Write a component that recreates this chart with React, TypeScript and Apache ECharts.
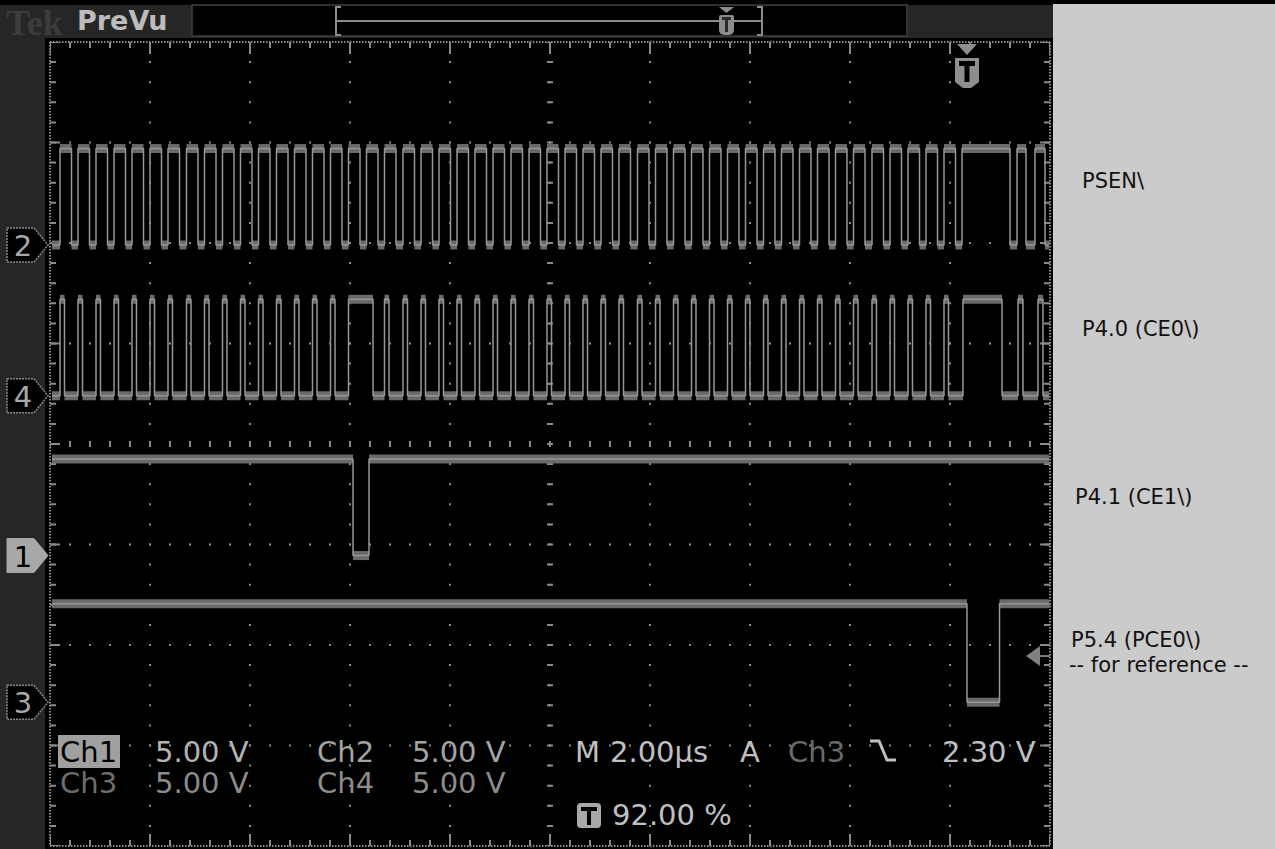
import React, { useEffect, useRef } from 'react';
import * as echarts from 'echarts';

// ---- time base (µs, relative to trigger; trigger position 92 % of 20 µs record) ----
const T_MIN = -18.4;
const T_MAX = 1.6;
const T_PER_DIV = 2;
const Y_DIVS = 8;
const traceStart = -18.36;
const traceEnd = 1.58;

// ---- channels (display order top to bottom) ----
const channelNames = ['Ch2', 'Ch4', 'Ch1', 'Ch3'];
const markerDigits = ['2', '4', '1', '3'];
const markerFilled = [false, false, true, false];
const signalLabels = ['PSEN\\', 'P4.0 (CE0\\)', 'P4.1 (CE1\\)', 'P5.4 (PCE0\\)'];
const groundDiv = [5.98, 4.48, 2.89, 1.43];
const highVolts = [4.8, 4.8, 4.8, 4.9];
const lowVolts = [0, 0, 0, 0];
const voltsPerDiv = [5, 5, 5, 5];

// high intervals [start µs, end µs] for each channel
const psenHigh = [
  [-18.2, -17.97], [-17.84, -17.61], [-17.48, -17.25], [-17.12, -16.89], [-16.76, -16.53],
  [-16.4, -16.17], [-16.04, -15.81], [-15.67, -15.44], [-15.31, -15.08], [-14.95, -14.72],
  [-14.59, -14.36], [-14.23, -14.0], [-13.87, -13.64], [-13.51, -13.28], [-13.15, -12.92],
  [-12.79, -12.56], [-12.43, -12.2], [-12.07, -11.84], [-11.71, -11.48], [-11.34, -11.11],
  [-10.98, -10.75], [-10.62, -10.39], [-10.26, -10.03], [-9.9, -9.67], [-9.54, -9.31],
  [-9.18, -8.95], [-8.82, -8.59], [-8.46, -8.23], [-8.1, -7.87], [-7.74, -7.51],
  [-7.38, -7.15], [-7.02, -6.79], [-6.65, -6.42], [-6.29, -6.06], [-5.93, -5.7],
  [-5.57, -5.34], [-5.21, -4.98], [-4.85, -4.62], [-4.49, -4.26], [-4.13, -3.9],
  [-3.77, -3.54], [-3.41, -3.18], [-3.05, -2.82], [-2.69, -2.46], [-2.33, -2.1],
  [-1.96, -1.73], [-1.6, -1.37], [-1.24, -1.01], [-0.88, -0.65], [-0.52, -0.29],
  [-0.16, 0.8], [0.94, 1.12], [1.3, 1.5],
];
const ce0High = [
  [-18.2, -18.11], [-17.84, -17.75], [-17.48, -17.39], [-17.12, -17.03], [-16.76, -16.67],
  [-16.4, -16.31], [-16.04, -15.95], [-15.67, -15.58], [-15.31, -15.22], [-14.95, -14.86],
  [-14.59, -14.5], [-14.23, -14.14], [-13.87, -13.78], [-13.51, -13.42], [-13.15, -13.06],
  [-12.79, -12.7], [-12.43, -11.94], [-11.71, -11.62], [-11.34, -11.25], [-10.98, -10.89],
  [-10.62, -10.53], [-10.26, -10.17], [-9.9, -9.81], [-9.54, -9.45], [-9.18, -9.09],
  [-8.82, -8.73], [-8.46, -8.37], [-8.1, -8.01], [-7.74, -7.65], [-7.38, -7.29],
  [-7.02, -6.93], [-6.65, -6.56], [-6.29, -6.2], [-5.93, -5.84], [-5.57, -5.48],
  [-5.21, -5.12], [-4.85, -4.76], [-4.49, -4.4], [-4.13, -4.04], [-3.77, -3.68],
  [-3.41, -3.32], [-3.05, -2.96], [-2.69, -2.6], [-2.33, -2.24], [-1.96, -1.87],
  [-1.6, -1.51], [-1.24, -1.15], [-0.88, -0.79], [-0.52, -0.43], [-0.14, 0.64],
  [0.96, 1.06], [1.36, 1.46],
];
const ce1High = [[-18.36, -12.34], [-12.02, 1.58]];
const pce0High = [[-18.36, -0.06], [0.59, 1.58]];
const channelHighs = [psenHigh, ce0High, ce1High, pce0High];

const triggerLevelVolts = 2.3;
const triggerChannel = 3;

// ---- colours ----
const GRID_C = '#8a8a8a';
const TRACE_C = '#969696';
const BAND_C = '#6a6a6a';

function buildTrace(highs: number[][], g: number, vHi: number, vLo: number, vpd: number) {
  const hi = g + vHi / vpd;
  const lo = g + vLo / vpd;
  const line: number[][] = [];
  const flats: number[][] = [];
  let t = traceStart;
  for (const [a0, b0] of highs) {
    const a = Math.max(a0, traceStart);
    const b = Math.min(b0, traceEnd);
    if (a > t) {
      line.push([t, lo], [a, lo]);
      flats.push([t, a, lo]);
    }
    line.push([a, hi], [b, hi]);
    flats.push([a, b, hi]);
    t = b;
  }
  if (t < traceEnd) {
    line.push([t, lo], [traceEnd, lo]);
    flats.push([t, traceEnd, lo]);
  }
  return { line, flats };
}

function graticuleRender(_p: any, api: any) {
  const tl = api.coord([T_MIN, Y_DIVS]);
  const br = api.coord([T_MAX, 0]);
  const x0 = tl[0], y0 = tl[1], x1 = br[0], y1 = br[1];
  const nx = Math.round((T_MAX - T_MIN) / T_PER_DIV);
  const divW = (x1 - x0) / nx;
  const divH = (y1 - y0) / Y_DIVS;
  const mW = divW / 5;
  const mH = divH / 5;
  const ch: any[] = [];
  const L = (xa: number, ya: number, xb: number, yb: number, w: number, dash: number[], off: number) =>
    ch.push({
      type: 'line',
      shape: { x1: xa, y1: ya, x2: xb, y2: yb },
      style: { stroke: GRID_C, lineWidth: w, lineDash: dash, lineDashOffset: off },
    });
  for (let i = 1; i < nx; i++) {
    const x = x0 + i * divW;
    L(x, y0, x, y1, 2, [2, mH - 2], 1);
  }
  for (let j = 1; j < Y_DIVS; j++) {
    const y = y0 + j * divH;
    L(x0, y, x1, y, 2, [2, mW - 2], 1);
  }
  const xm = x0 + (nx / 2) * divW;
  const ym = y0 + (Y_DIVS / 2) * divH;
  L(xm, y0, xm, y1, 6, [2, mH - 2], 1);
  L(x0, ym, x1, ym, 6, [2, mW - 2], 1);
  // frame
  L(x0, y0, x1, y0, 2, [1.5, 1.5], 0);
  L(x0, y1, x1, y1, 2, [1.5, 1.5], 0);
  L(x0, y0, x0, y1, 2, [1.5, 1.5], 0);
  L(x1, y0, x1, y1, 2, [1.5, 1.5], 0);
  // minor ticks on frame
  L(x0 + 3, y0, x0 + 3, y1, 6, [2, mH - 2], 1);
  L(x1 - 3, y0, x1 - 3, y1, 6, [2, mH - 2], 1);
  L(x0, y0 + 3, x1, y0 + 3, 6, [2, mW - 2], 1);
  L(x0, y1 - 3, x1, y1 - 3, 6, [2, mW - 2], 1);
  // major ticks on frame
  L(x0 + 5, y0, x0 + 5, y1, 10, [2, divH - 2], 1);
  L(x1 - 5, y0, x1 - 5, y1, 10, [2, divH - 2], 1);
  L(x0, y0 + 6, x1, y0 + 6, 12, [2, divW - 2], 1);
  L(x0, y1 - 6, x1, y1 - 6, 12, [2, divW - 2], 1);
  return { type: 'group', children: ch };
}

function bandRender(_p: any, api: any) {
  const a = api.coord([api.value(0), api.value(2)]);
  const b = api.coord([api.value(1), api.value(2)]);
  const h = 9;
  return {
    type: 'rect',
    shape: { x: a[0], y: a[1] - h / 2, width: Math.max(b[0] - a[0], 1), height: h },
    style: { fill: BAND_C },
  };
}

function markerRender(_p: any, api: any) {
  const i = api.value(2);
  const p = api.coord([api.value(0), api.value(1)]);
  const tip = p[0] - 2;
  const y = p[1];
  const filled = markerFilled[i];
  return {
    type: 'group',
    children: [
      {
        type: 'polygon',
        shape: { points: [[7, y - 17], [tip - 14, y - 17], [tip, y], [tip - 14, y + 17], [7, y + 17]] },
        style: filled
          ? { fill: '#a8a8a8', stroke: '#a8a8a8', lineWidth: 1 }
          : { fill: '#000', stroke: '#8a8a8a', lineWidth: 1.5, lineDash: [2, 1] },
      },
      {
        type: 'text',
        x: 23,
        y: y + 1,
        style: {
          text: markerDigits[i],
          font: '29px "DejaVu Sans"',
          fill: filled ? '#000' : '#a8a8a8',
          align: 'center',
          verticalAlign: 'middle',
        },
      },
    ],
  };
}

function triggerRender(_p: any, api: any) {
  const top = api.coord([api.value(0), Y_DIVS]);
  const lvl = api.coord([T_MAX, api.value(1)]);
  const x = top[0] - 3;
  const ty = top[1];
  const rx = lvl[0];
  const ly = lvl[1];
  return {
    type: 'group',
    children: [
      { type: 'polygon', shape: { points: [[x - 10, ty + 2], [x + 10, ty + 2], [x, ty + 13]] }, style: { fill: '#8e8e8e' } },
      {
        type: 'polygon',
        shape: { points: [[x - 12, ty + 16], [x + 12, ty + 16], [x + 12, ty + 40], [x + 4, ty + 46], [x - 4, ty + 46], [x - 12, ty + 40]] },
        style: { fill: '#8e8e8e' },
      },
      { type: 'rect', shape: { x: x - 8, y: ty + 19, width: 16, height: 5 }, style: { fill: '#000' } },
      { type: 'rect', shape: { x: x - 2.5, y: ty + 24, width: 5, height: 16 }, style: { fill: '#000' } },
      { type: 'polygon', shape: { points: [[rx - 24, ly], [rx - 10, ly - 10], [rx - 10, ly + 10]] }, style: { fill: '#808080' } },
      { type: 'line', shape: { x1: rx - 10, y1: ly, x2: rx, y2: ly }, style: { stroke: '#808080', lineWidth: 2 } },
    ],
  };
}

const FONT = '29px "DejaVu Sans"';
const txt = (text: string, x: number, y: number, fill: string, font = FONT, z = 10) => ({
  type: 'text',
  x,
  y,
  z,
  silent: true,
  style: { text, font, fill, verticalAlign: 'middle' },
});

function buildOption() {
  const series: any[] = [
    { type: 'custom', silent: true, z: 1, data: [[0, 0]], renderItem: graticuleRender },
  ];
  channelHighs.forEach((highs, i) => {
    const { line, flats } = buildTrace(highs, groundDiv[i], highVolts[i], lowVolts[i], voltsPerDiv[i]);
    series.push({
      type: 'custom',
      name: channelNames[i] + ' band',
      silent: true,
      clip: true,
      z: 2,
      data: flats,
      renderItem: bandRender,
    });
    series.push({
      type: 'line',
      name: signalLabels[i],
      silent: true,
      z: 3,
      data: line,
      symbol: 'none',
      showSymbol: false,
      lineStyle: { color: TRACE_C, width: 1.5 },
    });
  });
  series.push({
    type: 'custom',
    silent: true,
    z: 6,
    data: groundDiv.map((g, i) => [T_MIN, g, i]),
    renderItem: markerRender,
  });
  series.push({
    type: 'custom',
    silent: true,
    z: 6,
    data: [[0, groundDiv[triggerChannel] + triggerLevelVolts / voltsPerDiv[triggerChannel]]],
    renderItem: triggerRender,
  });

  const graphic: any[] = [
    { type: 'rect', z: 0, shape: { x: 0, y: 5, width: 1053, height: 33 }, style: { fill: '#262626' } },
    { type: 'rect', z: 0, shape: { x: 0, y: 5, width: 45, height: 844 }, style: { fill: '#262626' } },
    { type: 'rect', z: 0, shape: { x: 192, y: 5, width: 715, height: 31 }, style: { fill: '#000', stroke: '#404040', lineWidth: 1.5 } },
    { type: 'rect', z: 0, shape: { x: 1053, y: 4, width: 222, height: 845 }, style: { fill: '#cbcbcb' } },
    txt('Tek', 6, 23, '#3c3c3c', 'bold 36px "Liberation Serif"', 1),
    txt('PreVu', 77, 20, '#bcbcbc', 'bold 27px "DejaVu Sans"', 1),
    // record view indicator
    { type: 'polyline', z: 1, shape: { points: [[341, 7], [336, 7], [336, 35], [341, 35]] }, style: { stroke: '#8c8c8c', lineWidth: 2, fill: null } },
    { type: 'polyline', z: 1, shape: { points: [[757, 7], [762, 7], [762, 35], [757, 35]] }, style: { stroke: '#8c8c8c', lineWidth: 2, fill: null } },
    { type: 'line', z: 1, shape: { x1: 336, y1: 21, x2: 762, y2: 21 }, style: { stroke: '#8c8c8c', lineWidth: 2 } },
    { type: 'polygon', z: 2, shape: { points: [[719, 7], [734, 7], [726.5, 13]] }, style: { fill: '#8c8c8c' } },
    { type: 'rect', z: 2, shape: { x: 719, y: 15, width: 15, height: 20, r: [2, 2, 5, 5] }, style: { fill: '#8c8c8c' } },
    { type: 'rect', z: 3, shape: { x: 722, y: 17, width: 9, height: 3 }, style: { fill: '#2a2a2a' } },
    { type: 'rect', z: 3, shape: { x: 725, y: 20, width: 3, height: 12 }, style: { fill: '#2a2a2a' } },
    // right panel labels
    txt(signalLabels[0], 1082, 181, '#111', '21px "DejaVu Sans"'),
    txt(signalLabels[1], 1082, 329, '#111', '21px "DejaVu Sans"'),
    txt(signalLabels[2], 1075, 497, '#111', '21px "DejaVu Sans"'),
    txt(signalLabels[3], 1071, 640, '#111', '21px "DejaVu Sans"'),
    txt('-- for reference --', 1069, 665, '#111', '21px "DejaVu Sans"'),
    // readouts
    { type: 'rect', z: 9, shape: { x: 58, y: 735, width: 62, height: 33 }, style: { fill: '#a0a0a0' } },
    txt('Ch1', 60, 752, '#000'),
    txt('5.00 V', 155, 752, '#b4b4b4'),
    txt('Ch2', 317, 752, '#a4a4a4'),
    txt('5.00 V', 412, 752, '#a4a4a4'),
    txt('Ch3', 60, 783, '#6e6e6e'),
    txt('5.00 V', 155, 783, '#8c8c8c'),
    txt('Ch4', 317, 783, '#8c8c8c'),
    txt('5.00 V', 412, 783, '#8c8c8c'),
    txt('M', 575, 752, '#c0c0c0'),
    txt('2.00µs', 610, 752, '#c0c0c0'),
    txt('A', 740, 752, '#c0c0c0'),
    txt('Ch3', 788, 752, '#6a6a6a'),
    { type: 'polyline', z: 10, shape: { points: [[870, 741], [879, 741], [887, 760], [896, 760]] }, style: { stroke: '#c0c0c0', lineWidth: 3, fill: null } },
    txt('2.30 V', 942, 752, '#c0c0c0'),
    { type: 'rect', z: 10, shape: { x: 577, y: 803, width: 24, height: 25, r: 4 }, style: { fill: '#a8a8a8' } },
    { type: 'rect', z: 11, shape: { x: 581, y: 807, width: 16, height: 4 }, style: { fill: '#000' } },
    { type: 'rect', z: 11, shape: { x: 587, y: 811, width: 4, height: 14 }, style: { fill: '#000' } },
    txt('92.00 %', 612, 815, '#c0c0c0'),
  ];

  return {
    animation: false,
    backgroundColor: '#000',
    grid: { left: 50, top: 42, width: 1000, height: 804, show: false },
    xAxis: { type: 'value', min: T_MIN, max: T_MAX, show: false },
    yAxis: { type: 'value', min: 0, max: Y_DIVS, show: false },
    graphic,
    series,
  };
}

export default function App() {
  const ref = useRef<HTMLDivElement>(null);
  useEffect(() => {
    const chart = echarts.init(ref.current as HTMLDivElement, undefined, { renderer: 'svg', width: 1275, height: 849 });
    chart.setOption(buildOption() as any);
    return () => chart.dispose();
  }, []);
  return <div ref={ref} style={{ position: 'absolute', left: 0, top: 0, width: 1275, height: 849 }} />;
}
